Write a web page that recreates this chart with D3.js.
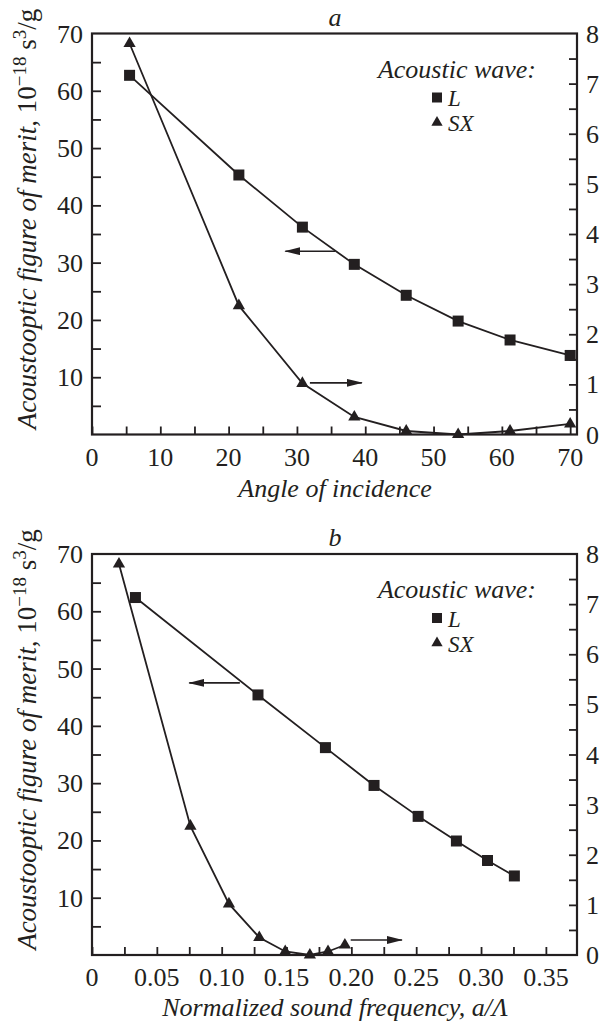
<!DOCTYPE html>
<html>
<head>
<meta charset="utf-8">
<script src="https://cdn.jsdelivr.net/npm/d3@7"></script>
<style>
  body { margin: 0; background: #fff; }
  text { font-family: "Liberation Serif", "Times New Roman", serif; fill: #231f20; }
</style>
</head>
<body>
<div id="chart"></div>
<script>
// panel a: angle of incidence
var angleL = [5.5, 21.5, 30.8, 38.4, 46, 53.6, 61.2, 70];
var meritLa = [62.7, 45.3, 36.2, 29.7, 24.3, 19.8, 16.5, 13.8];
var angleSX = [5.5, 21.5, 30.8, 38.4, 46, 53.6, 61.2, 70];
var meritSXa = [7.8, 2.57, 1.02, 0.35, 0.07, 0.0, 0.07, 0.21];

// panel b: normalized sound frequency
var freqL = [0.0335, 0.128, 0.180, 0.2175, 0.2515, 0.281, 0.305, 0.3257];
var meritLb = [62.4, 45.4, 36.2, 29.6, 24.2, 19.9, 16.5, 13.8];
var freqSX = [0.0208, 0.0759, 0.1056, 0.129, 0.149, 0.168, 0.182, 0.195];
var meritSXb = [7.8, 2.57, 1.02, 0.35, 0.07, 0.0, 0.07, 0.2];

// tick values
var xTicksA = [0, 10, 20, 30, 40, 50, 60, 70];
var xTicksB = [0, 0.05, 0.10, 0.15, 0.20, 0.25, 0.30, 0.35];
var leftTicks = [10, 20, 30, 40, 50, 60, 70];
var rightTicks = [0, 1, 2, 3, 4, 5, 6, 7, 8];

// arrows [x1, x2, y] in data units (left / right axis)
var arrowsA = { left: [35.6, 28.3, 32.0], right: [31.9, 39.5, 1.03] };
var arrowsB = { left: [0.114, 0.075, 47.5], right: [0.1995, 0.239, 0.30] };

var svgWidth = 604;
var svgHeight = 1028;
var ink = "#231f20";
var fs = 26;

var margin = { left: 92, right: 27 };
var width = svgWidth - margin.left - margin.right;
var height = 401;

var svg = d3.select("#chart")
  .append("svg")
  .attr("width", svgWidth)
  .attr("height", svgHeight);

svg.append("rect").attr("width", svgWidth).attr("height", svgHeight).attr("fill", "#fff");

svg.append("defs").append("marker")
  .attr("id", "head")
  .attr("viewBox", "0 0 16 8")
  .attr("refX", 15)
  .attr("refY", 4)
  .attr("markerUnits", "userSpaceOnUse")
  .attr("markerWidth", 16)
  .attr("markerHeight", 8)
  .attr("orient", "auto")
  .append("path")
  .attr("d", "M0,0 L16,4 L0,8 Z")
  .attr("fill", ink);

function drawPanel(opt) {
  var g = svg.append("g")
    .attr("transform", `translate(${margin.left}, ${opt.top})`);

  var x = d3.scaleLinear().domain(opt.xDomain).range([0, width]);
  var yL = d3.scaleLinear().domain([0, 70]).range([height, 0]);
  var yR = d3.scaleLinear().domain([0, 8]).range([height, 0]);

  // minor + major ticks, pointing inward
  var bottomAxis = d3.axisBottom(x)
    .tickValues(d3.range(0, opt.xDomain[1] + 1e-9, opt.xMinor))
    .tickSize(-8)
    .tickFormat("");
  var leftAxis = d3.axisLeft(yL).tickValues(d3.range(5, 70, 5)).tickSize(-9).tickFormat("");
  var rightAxis = d3.axisRight(yR).tickValues(d3.range(0.5, 8, 0.5)).tickSize(-8).tickFormat("");

  g.append("g").attr("transform", `translate(0, ${height})`).call(bottomAxis);
  g.append("g").call(leftAxis);
  g.append("g").attr("transform", `translate(${width}, 0)`).call(rightAxis);
  g.selectAll(".tick line").attr("stroke", ink).attr("stroke-width", 1.8);
  g.selectAll(".domain").remove();

  // frame
  g.append("rect")
    .attr("width", width)
    .attr("height", height)
    .attr("fill", "none")
    .attr("stroke", ink)
    .attr("stroke-width", 2.2);

  // tick labels
  g.selectAll(".xlab").data(opt.xTicks).enter().append("text")
    .attr("x", d => x(d))
    .attr("y", height + 31)
    .attr("text-anchor", "middle")
    .style("font-size", fs + "px")
    .text(opt.xFormat);

  g.selectAll(".ylab").data(leftTicks).enter().append("text")
    .attr("x", -9)
    .attr("y", d => yL(d) + 9)
    .attr("text-anchor", "end")
    .style("font-size", fs + "px")
    .text(d => d);

  g.selectAll(".rlab").data(rightTicks).enter().append("text")
    .attr("x", width + 9)
    .attr("y", d => yR(d) + 9)
    .style("font-size", fs + "px")
    .text(d => d);

  // panel letter
  g.append("text")
    .attr("x", 243)
    .attr("y", -8)
    .attr("text-anchor", "middle")
    .style("font-size", fs + "px")
    .style("font-style", "italic")
    .text(opt.letter);

  // x title
  g.append("text")
    .attr("x", 243)
    .attr("y", height + opt.xTitleDy)
    .attr("text-anchor", "middle")
    .style("font-size", fs + "px")
    .style("font-style", "italic")
    .text(opt.xTitle);

  // y title
  var yt = g.append("text")
    .attr("transform", `translate(-56, ${height / 2 - 15}) rotate(-90)`)
    .attr("text-anchor", "middle")
    .style("font-size", "27px");
  yt.append("tspan").style("font-style", "italic").text("Acoustooptic figure of merit, ");
  yt.append("tspan").text("10");
  yt.append("tspan").attr("dy", -10).style("font-size", "19px").text("\u221218");
  yt.append("tspan").attr("dy", 10).text(" s");
  yt.append("tspan").attr("dy", -10).style("font-size", "19px").text("3");
  yt.append("tspan").attr("dy", 10).text("/g");

  // series
  var lineL = d3.line().x(d => x(d[0])).y(d => yL(d[1]));
  var lineS = d3.line().x(d => x(d[0])).y(d => yR(d[1]));
  var dataL = d3.zip(opt.xL, opt.vL);
  var dataS = d3.zip(opt.xS, opt.vS);

  g.append("path").datum(dataL).attr("d", lineL)
    .attr("fill", "none").attr("stroke", ink).attr("stroke-width", 1.8);
  g.append("path").datum(dataS).attr("d", lineS)
    .attr("fill", "none").attr("stroke", ink).attr("stroke-width", 1.8);

  var square = d3.symbol().type(d3.symbolSquare).size(121);
  var tri = d3.symbol().type(d3.symbolTriangle).size(65);

  g.selectAll(".sq").data(dataL).enter().append("path")
    .attr("d", square)
    .attr("transform", d => `translate(${x(d[0])}, ${yL(d[1])})`)
    .attr("fill", ink);
  g.selectAll(".tr").data(dataS).enter().append("path")
    .attr("d", tri)
    .attr("transform", d => `translate(${x(d[0])}, ${yR(d[1])})`)
    .attr("fill", ink);

  // arrows
  g.append("line")
    .attr("x1", x(opt.arrows.left[0])).attr("x2", x(opt.arrows.left[1]))
    .attr("y1", yL(opt.arrows.left[2])).attr("y2", yL(opt.arrows.left[2]))
    .attr("stroke", ink).attr("stroke-width", 1.6)
    .attr("marker-end", "url(#head)");
  g.append("line")
    .attr("x1", x(opt.arrows.right[0])).attr("x2", x(opt.arrows.right[1]))
    .attr("y1", yR(opt.arrows.right[2])).attr("y2", yR(opt.arrows.right[2]))
    .attr("stroke", ink).attr("stroke-width", 1.6)
    .attr("marker-end", "url(#head)");

  // legend
  g.append("text")
    .attr("x", 444).attr("y", 44)
    .attr("text-anchor", "end")
    .style("font-size", fs + "px")
    .style("font-style", "italic")
    .text("Acoustic wave:");
  g.append("path").attr("d", d3.symbol().type(d3.symbolSquare).size(100))
    .attr("transform", "translate(345, 64)").attr("fill", ink);
  g.append("text").attr("x", 356).attr("y", 72.5)
    .style("font-size", "23px").style("font-style", "italic").text("L");
  g.append("path").attr("d", d3.symbol().type(d3.symbolTriangle).size(55))
    .attr("transform", "translate(345, 89)").attr("fill", ink);
  g.append("text").attr("x", 356).attr("y", 97.5)
    .style("font-size", "23px").style("font-style", "italic").text("SX");
}

drawPanel({
  top: 33.5,
  letter: "a",
  xDomain: [0, 71],
  xMinor: 5,
  xTicks: xTicksA,
  xFormat: d => d,
  xTitle: "Angle of incidence",
  xTitleDy: 62,
  xL: angleL, vL: meritLa,
  xS: angleSX, vS: meritSXa,
  arrows: arrowsA
});

drawPanel({
  top: 554,
  letter: "b",
  xDomain: [0, 0.374],
  xMinor: 0.025,
  xTicks: xTicksB,
  xFormat: d => d === 0 ? "0" : d3.format(".2f")(d),
  xTitle: "Normalized sound frequency, a/\u039B",
  xTitleDy: 61,
  xL: freqL, vL: meritLb,
  xS: freqSX, vS: meritSXb,
  arrows: arrowsB
});
</script>
</body>
</html>
